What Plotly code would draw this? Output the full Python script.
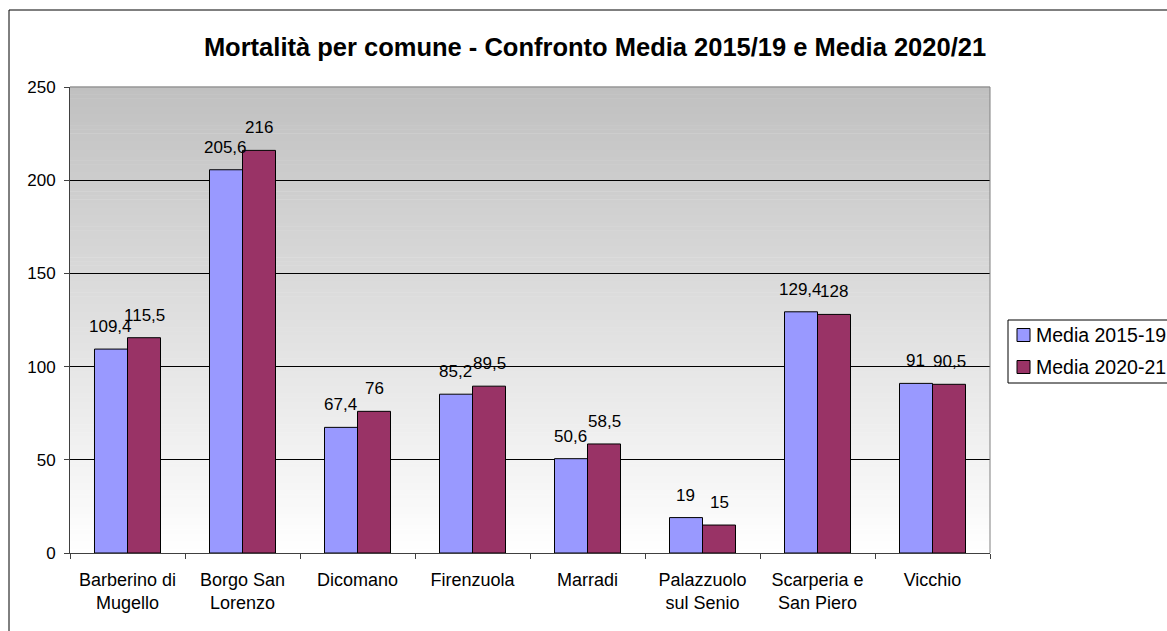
import plotly.graph_objects as go

categories = ["Barberino di<br>Mugello", "Borgo San<br>Lorenzo", "Dicomano", "Firenzuola",
              "Marradi", "Palazzuolo<br>sul Senio", "Scarperia e<br>San Piero", "Vicchio"]
media_2015_19 = [109.4, 205.6, 67.4, 85.2, 50.6, 19, 129.4, 91]
media_2020_21 = [115.5, 216, 76, 89.5, 58.5, 15, 128, 90.5]
series_names = ["Media 2015-19", "Media 2020-21"]
y_ticks = [0, 50, 100, 150, 200, 250]


def fmt(v):
    return f"{v:g}".replace(".", ",")


W, H = 1167, 631
L, R, T, B = 70, 990, 87, 553
pw, ph = R - L, B - T
cat_px = pw / len(categories)
bar_px = cat_px * (1 - 0.426) / 2


def px_x(p):
    return (p - L) / pw


def px_y(p):
    return (B - p) / ph


fig = go.Figure()
colors = ["#9999FF", "#993366"]
annotations = []
for k, (name, vals, col) in enumerate(zip(series_names, [media_2015_19, media_2020_21], colors)):
    fig.add_trace(go.Bar(
        x=categories, y=vals, name=name, showlegend=False,
        marker=dict(color=col, line=dict(color="#000000", width=1)),
    ))
    shift = (k - 0.5) * bar_px
    for c, v in zip(categories, vals):
        annotations.append(dict(x=c, y=v, xref="x", yref="y", text=fmt(v), showarrow=False,
                                xanchor="center", yanchor="bottom", xshift=shift, yshift=11,
                                font=dict(family="Arial", size=17, color="#000000")))

shapes = []
n = 120
for i in range(n):
    y0 = i / n
    y1 = (i + 1) / n
    frac = (i + 0.5) / n  # 0 bottom, 1 top
    g = int(round(255 - 63 * frac))
    shapes.append(dict(type="rect", xref="paper", yref="paper", x0=0, x1=1, y0=y0, y1=y1 + 0.001,
                       fillcolor=f"rgb({g},{g},{g})", line=dict(width=0), layer="below"))
# plot area border (top/right)
shapes.append(dict(type="line", xref="paper", yref="paper", x0=0, x1=1, y0=1, y1=1,
                   line=dict(color="#808080", width=1), layer="above"))
shapes.append(dict(type="line", xref="paper", yref="paper", x0=1, x1=1, y0=0, y1=1,
                   line=dict(color="#808080", width=1), layer="above"))
# outer chart frame
shapes.append(dict(type="rect", xref="paper", yref="paper",
                   x0=px_x(9), x1=px_x(1185), y0=px_y(650), y1=px_y(10),
                   line=dict(color="#000000", width=1), fillcolor="rgba(0,0,0,0)", layer="above"))

# legend (box, swatches, labels)
shapes.append(dict(type="rect", xref="paper", yref="paper",
                   x0=px_x(1008), x1=px_x(1200), y0=px_y(383), y1=px_y(320),
                   line=dict(color="#000000", width=1), fillcolor="#FFFFFF", layer="above"))
for name, col, cy in zip(series_names, colors, [335, 367]):
    shapes.append(dict(type="rect", xref="paper", yref="paper",
                       x0=px_x(1017), x1=px_x(1030), y0=px_y(cy + 6.5), y1=px_y(cy - 6.5),
                       line=dict(color="#000000", width=1), fillcolor=col, layer="above"))
    annotations.append(dict(x=px_x(1034), y=px_y(cy), xref="paper", yref="paper", text=name,
                            showarrow=False, xanchor="left", yanchor="middle",
                            font=dict(family="Arial", size=19.5, color="#000000")))

fig.update_layout(
    width=W, height=H,
    margin=dict(l=L, r=W - R, t=T, b=H - B, autoexpand=False),
    paper_bgcolor="#FFFFFF", plot_bgcolor="rgba(0,0,0,0)",
    barmode="group", bargap=0.426, bargroupgap=0,
    font=dict(family="Arial", color="#000000"),
    title=dict(text="<b>Mortalità per comune - Confronto Media 2015/19 e Media 2020/21</b>",
               font=dict(family="Arial", size=25.5, color="#000000"),
               x=(595 - L) / pw, xref="paper", xanchor="center",
               y=1 - 47 / H, yref="container", yanchor="middle"),
    shapes=shapes,
    annotations=annotations,
    showlegend=False,
    xaxis=dict(showline=True, linecolor="#404040", linewidth=1, ticks="outside", ticklen=5,
               tickcolor="#404040", tickson="boundaries", ticklabelstandoff=10,
               tickfont=dict(family="Arial", size=18, color="#000000"), showgrid=False),
    yaxis=dict(range=[0, 250], tickvals=y_ticks, showline=True, linecolor="#404040", linewidth=1,
               ticks="outside", ticklen=5, tickcolor="#404040", ticklabelstandoff=5,
               showgrid=True, gridcolor="#000000", gridwidth=1, zeroline=False,
               tickfont=dict(family="Arial", size=17, color="#000000")),
)

fig.write_html("out.html")
